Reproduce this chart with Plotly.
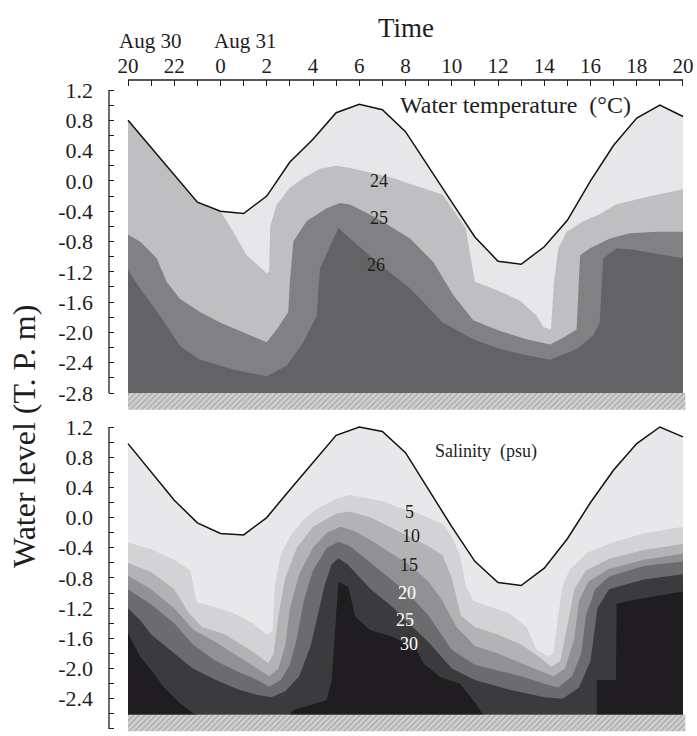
import plotly.graph_objects as go

# ---------------- time axis (hours after Aug 30 20:00) ----------------
HOURS = list(range(25))
HOUR_TEXT = ["20", "", "22", "", "0", "", "2", "", "4", "", "6", "", "8", "",
             "10", "", "12", "", "14", "", "16", "", "18", "", "20"]

# ---------------- upper panel: water temperature ----------------
TEMP_LEVEL = [0.80, 0.44, 0.08, -0.28, -0.40, -0.43, -0.20, 0.25, 0.55, 0.90, 1.01, 0.94,
              0.65, 0.18, -0.28, -0.74, -1.06, -1.10, -0.87, -0.52, 0.00, 0.47, 0.83, 1.00, 0.85]

T24_T = [0, 1, 2, 3, 4, 4.55, 5.13, 6.0, 6.1, 6.15, 6.43, 7.0, 7.58, 8.3, 9.02, 9.6, 10.46,
         11.47, 12.2, 13.6, 14.6, 14.9, 15.0, 15.94, 16.95, 17.67, 17.96, 18.29, 18.42,
         18.61, 18.97, 19.7, 20.4, 21.1, 22.6, 24]
T24_Z = [0.80, 0.44, 0.08, -0.28, -0.40, -0.67, -0.98, -1.22, -1.2, -0.6, -0.31, -0.09,
         0.04, 0.16, 0.20, 0.17, 0.11, 0.04, -0.04, -0.18, -0.62, -1.2, -1.33, -1.44,
         -1.58, -1.78, -1.93, -1.96, -1.33, -0.89, -0.67, -0.53, -0.44, -0.31, -0.20, -0.11]

T25_T = [0, 0.52, 1.24, 1.67, 2.25, 3.11, 3.98, 4.99, 6.0, 6.43, 6.93, 7.0, 7.15, 7.73,
         8.59, 9.17, 9.6, 10.75, 12.2, 13.2, 14.07, 14.93, 16.09, 17.24, 18.25, 18.82,
         19.4, 19.55, 19.98, 20.84, 21.7, 22.86, 24]
T25_Z = [-0.71, -0.80, -1.02, -1.33, -1.56, -1.73, -1.87, -2.00, -2.13, -1.96, -1.73,
         -1.33, -0.80, -0.53, -0.36, -0.29, -0.31, -0.49, -0.76, -1.07, -1.51, -1.84,
         -1.98, -2.09, -2.16, -2.07, -1.96, -0.98, -0.89, -0.76, -0.69, -0.67, -0.67]

T26_T = [0, 0.52, 1.38, 2.25, 3.11, 4.55, 6.0, 6.86, 7.58, 8.16, 8.3, 9.1, 9.6, 10.75,
         12.2, 13.6, 14.93, 16.09, 17.1, 18.25, 19.4, 20.12, 20.4, 20.55, 21.13, 21.85, 24]
T26_Z = [-1.18, -1.42, -1.78, -2.18, -2.36, -2.49, -2.58, -2.44, -2.13, -1.78, -1.16,
         -0.62, -0.76, -1.07, -1.42, -1.87, -2.09, -2.22, -2.29, -2.36, -2.22, -2.04,
         -1.87, -1.02, -0.89, -0.91, -1.02]

TEMP_BED_TOP, TEMP_BED_BASE = -2.80, -3.02

# ---------------- lower panel: salinity ----------------
SAL_LEVEL = [0.98, 0.60, 0.23, -0.07, -0.21, -0.23, 0.00, 0.37, 0.73, 1.09, 1.20, 1.14,
             0.86, 0.37, -0.12, -0.58, -0.86, -0.90, -0.67, -0.28, 0.20, 0.63, 0.98, 1.20, 1.07]

S5_T = [0, 1, 2, 2.7, 2.97, 3.7, 4.6, 5.4, 6.0, 6.25, 6.35, 6.6, 7.0, 7.6, 8.2, 9.0, 9.6,
        10.5, 11.0, 12.0, 12.5, 13.6, 14.0, 14.36, 14.6, 14.93, 15.65, 16.5, 17.24, 17.67,
        18.18, 18.39, 18.6, 18.8, 19.1, 19.84, 20.84, 22.28, 24]
S5_Z = [-0.33, -0.42, -0.56, -0.70, -1.12, -1.18, -1.27, -1.40, -1.55, -1.50, -0.90, -0.50,
        -0.25, -0.02, 0.12, 0.25, 0.30, 0.25, 0.22, 0.10, 0.06, -0.08, -0.25, -0.50, -0.90,
        -1.10, -1.18, -1.27, -1.45, -1.75, -1.84, -1.80, -1.30, -0.90, -0.69, -0.47, -0.34,
        -0.21, -0.12]

S10_T = [0, 1, 2, 2.6, 3.2, 4.2, 5.0, 5.6, 6.07, 6.3, 6.5, 6.8, 7.3, 8.0, 9.0, 9.6, 10.5,
         11.5, 12.2, 13.0, 13.6, 14.0, 14.4, 15.0, 16.0, 17.0, 17.8, 18.3, 18.7, 19.0, 19.3,
         19.8, 20.8, 22.3, 24]
S10_Z = [-0.60, -0.72, -0.95, -1.25, -1.45, -1.55, -1.70, -1.82, -1.93, -1.80, -1.30, -0.80,
         -0.40, -0.12, 0.05, 0.08, 0.00, -0.15, -0.25, -0.38, -0.50, -0.80, -1.30, -1.45,
         -1.55, -1.68, -1.85, -1.98, -1.90, -1.40, -0.95, -0.70, -0.55, -0.43, -0.35]

S15_T = [0, 1, 2, 2.8, 3.8, 4.8, 5.6, 6.1, 6.5, 6.8, 7.0, 7.4, 8.0, 8.6, 9.2, 9.8, 10.5,
         11.5, 12.2, 13.0, 13.6, 14.2, 15.0, 16.0, 17.0, 17.8, 18.4, 18.9, 19.3, 19.5, 19.9,
         20.8, 22.3, 24]
S15_Z = [-0.77, -0.95, -1.20, -1.48, -1.65, -1.85, -2.00, -2.10, -2.00, -1.70, -1.20, -0.75,
         -0.40, -0.20, -0.12, -0.18, -0.30, -0.50, -0.63, -0.85, -1.10, -1.45, -1.70, -1.80,
         -1.93, -2.03, -2.10, -2.00, -1.60, -1.10, -0.85, -0.68, -0.56, -0.48]

S20_T = [0, 1, 2, 2.8, 3.8, 4.8, 5.6, 6.1, 6.6, 7.0, 7.3, 7.6, 8.0, 8.6, 9.1, 9.6, 10.5,
         11.5, 12.1, 13.0, 14.0, 15.0, 16.0, 17.0, 18.0, 18.6, 19.2, 19.6, 19.8, 20.2, 20.8,
         22.3, 24]
S20_Z = [-0.95, -1.15, -1.40, -1.68, -1.90, -2.05, -2.15, -2.24, -2.15, -1.95, -1.60, -1.10,
         -0.70, -0.40, -0.32, -0.38, -0.60, -0.85, -1.00, -1.30, -1.75, -1.95, -2.02, -2.10,
         -2.20, -2.25, -2.10, -1.80, -1.30, -0.95, -0.78, -0.64, -0.58]

S25_T = [0, 0.5, 1, 2, 2.8, 3.8, 4.8, 5.6, 6.2, 6.8, 7.4, 7.9, 8.2, 8.5, 8.8, 9.1, 9.5,
         10.5, 11.5, 12.0, 13.0, 14.0, 15.0, 16.5, 18.0, 18.8, 19.5, 20.0, 20.3, 20.8, 22.3, 24]
S25_Z = [-1.20, -1.35, -1.55, -1.80, -2.00, -2.15, -2.28, -2.35, -2.38, -2.30, -2.10, -1.70,
         -1.30, -0.90, -0.62, -0.54, -0.62, -0.95, -1.20, -1.36, -1.65, -2.00, -2.15, -2.28,
         -2.38, -2.40, -2.25, -1.90, -1.20, -0.95, -0.82, -0.75]

S30_T = [0, 0.52, 1.1, 1.53, 2.25, 2.82, 2.97, 7.0, 7.15, 8.59, 8.81, 9.02, 9.1, 9.53,
         9.82, 10.46, 11.47, 12.48, 12.77, 13.49, 14.36, 15.0, 15.36, 20.27, 20.27, 21.1,
         21.13, 21.85, 23.0, 24]
S30_Z = [-1.53, -1.84, -2.06, -2.24, -2.46, -2.59, -2.61, -2.61, -2.55, -2.42, -2.15, -1.09,
         -0.85, -0.92, -1.31, -1.49, -1.58, -1.75, -1.93, -2.11, -2.20, -2.45, -2.61, -2.61,
         -2.15, -2.15, -1.14, -1.09, -1.03, -0.98]

SAL_BED_TOP, SAL_BED_BASE = -2.61, -2.83

TEMP_BANDS = [("surface", None), ("24", (T24_T, T24_Z)), ("25", (T25_T, T25_Z)),
              ("26", (T26_T, T26_Z))]
TEMP_COLORS = ["#e7e7e9", "#bfbfc1", "#818184", "#636366"]

SAL_BANDS = [("surface", None), ("5", (S5_T, S5_Z)), ("10", (S10_T, S10_Z)),
             ("15", (S15_T, S15_Z)), ("20", (S20_T, S20_Z)), ("25", (S25_T, S25_Z)),
             ("30", (S30_T, S30_Z))]
SAL_COLORS = ["#e8e8ea", "#d3d3d5", "#b3b3b5", "#919194", "#6c6c6f", "#3b3b3d", "#1f1d1f"]

# contour-label anchor points (hours, m)
TEMP_LABEL_T = [10.85, 10.85, 10.74]
TEMP_LABEL_Z = [0.00, -0.49, -1.11]
SAL_LABEL_T = [12.16, 12.22, 12.16, 12.05, 11.98, 12.13]
SAL_LABEL_Z = [0.08, -0.25, -0.63, -1.00, -1.36, -1.67]
SAL_LABEL_COLOR = ["#1a1a1a", "#1a1a1a", "#1a1a1a", "#ffffff", "#ffffff", "#ffffff"]

FONT = "Liberation Serif"
INK = "#1e1e1e"

fig = go.Figure()


def add_panel(level, bands, colors, bed_top, bed_base, xa, ya):
    # water column coloured band by band: each layer fills from its upper
    # boundary down to the bed, darker layers painted over lighter ones
    for (name, curve), col in zip(bands, colors):
        if curve is None:
            xs, zs = list(HOURS), list(level)
        else:
            xs, zs = list(curve[0]), list(curve[1])
        xs = xs + [HOURS[-1], HOURS[0]]
        zs = zs + [bed_top, bed_top]
        fig.add_trace(go.Scatter(x=xs, y=zs, mode="lines", fill="toself",
                                 fillcolor=col, line=dict(width=0, color=col),
                                 hoverinfo="skip", showlegend=False,
                                 xaxis=xa, yaxis=ya))
    # river bed
    fig.add_trace(go.Scatter(
        x=[HOURS[0], HOURS[-1] + 0.1, HOURS[-1] + 0.1, HOURS[0], HOURS[0]],
        y=[bed_top, bed_top, bed_base, bed_base, bed_top],
        mode="lines", fill="toself", line=dict(width=0, color="#cfcfcf"),
        fillcolor="#cfcfcf",
        fillpattern=dict(shape="/", size=4, solidity=0.4,
                         fgcolor="#878787", bgcolor="#d2d2d2"),
        hoverinfo="skip", showlegend=False, xaxis=xa, yaxis=ya))
    # water level
    fig.add_trace(go.Scatter(x=HOURS, y=level, mode="lines",
                             line=dict(color="#111111", width=1.5),
                             hoverinfo="skip", showlegend=False,
                             xaxis=xa, yaxis=ya))


add_panel(TEMP_LEVEL, TEMP_BANDS, TEMP_COLORS, TEMP_BED_TOP, TEMP_BED_BASE, "x", "y")
add_panel(SAL_LEVEL, SAL_BANDS, SAL_COLORS, SAL_BED_TOP, SAL_BED_BASE, "x2", "y2")

Y_TICKS = [round(-2.8 + 0.2 * i, 1) for i in range(21)]
Y_TEXT = [f"{v:.1f}" if i % 2 == 0 else "" for i, v in enumerate(Y_TICKS)]
Y_TEXT = [t.replace("-0.0", "0.0") for t in Y_TEXT]

W, H = 697, 736
X_DOM = [109 / W, 686 / W]
X_RANGE = [-0.822, 24.13]

yaxis_common = dict(tickvals=Y_TICKS, ticktext=Y_TEXT, ticks="inside", ticklen=5,
                    tickwidth=1.2, tickcolor=INK, showgrid=False, zeroline=False,
                    showline=False, ticklabelstandoff=15, automargin=False,
                    tickfont=dict(family=FONT, size=22, color=INK))

fig.update_layout(
    width=W, height=H, margin=dict(l=0, r=0, t=0, b=0, autoexpand=False),
    paper_bgcolor="white", plot_bgcolor="white",
    xaxis=dict(domain=X_DOM, range=X_RANGE, anchor="y", side="top",
               tickvals=HOURS, ticktext=HOUR_TEXT, ticks="inside", ticklen=6,
               tickwidth=1.2, tickcolor=INK, showgrid=False, zeroline=False,
               showline=False, ticklabelstandoff=2, automargin=False,
               tickfont=dict(family=FONT, size=21, color=INK)),
    yaxis=dict(domain=[1 - 410 / H, 1 - 80 / H], range=[-3.024, 1.332], anchor="x",
               **yaxis_common),
    xaxis2=dict(domain=X_DOM, range=X_RANGE, anchor="y2", visible=False,
                automargin=False),
    yaxis2=dict(domain=[1 - 732 / H, 1 - 423 / H], range=[-2.84, 1.253], anchor="x2",
                **yaxis_common),
)

# axis lines
line = dict(color=INK, width=1.3)
fig.add_shape(type="line", xref="x", yref="y domain", x0=HOURS[0], x1=HOURS[-1],
              y0=1, y1=1, line=line)
for xr, yr in (("x domain", "y"), ("x2 domain", "y2")):
    fig.add_shape(type="line", xref=xr, yref=yr, x0=0, x1=0,
                  y0=Y_TICKS[0], y1=Y_TICKS[-1], line=line)


def paper_text(text, px, py, size, xanchor="center", angle=0):
    return dict(text=text, x=px / W, y=1 - py / H, xref="paper", yref="paper",
                xanchor=xanchor, yanchor="middle", textangle=angle, showarrow=False,
                font=dict(family=FONT, size=size, color=INK))


ann = [
    paper_text("Time", 406, 28, 27),
    paper_text("Aug 30", 117, 41, 21, xanchor="left"),
    paper_text("Aug 31", 212, 41, 21, xanchor="left"),
    paper_text("Water level (T. P. m)", 24, 437, 32, angle=-90),
    paper_text("Water temperature  (°C)", 515, 105, 24),
    paper_text("Salinity  (psu)", 486, 451, 18),
]
for (name, _), t, z in zip(TEMP_BANDS[1:], TEMP_LABEL_T, TEMP_LABEL_Z):
    ann.append(dict(text=name, x=t, y=z, xref="x", yref="y", showarrow=False,
                    xanchor="center", yanchor="middle",
                    font=dict(family=FONT, size=18, color=INK)))
for (name, _), t, z, c in zip(SAL_BANDS[1:], SAL_LABEL_T, SAL_LABEL_Z, SAL_LABEL_COLOR):
    ann.append(dict(text=name, x=t, y=z, xref="x2", yref="y2", showarrow=False,
                    xanchor="center", yanchor="middle",
                    font=dict(family=FONT, size=18, color=c)))
fig.update_layout(annotations=ann)

fig.write_html("out.html")
